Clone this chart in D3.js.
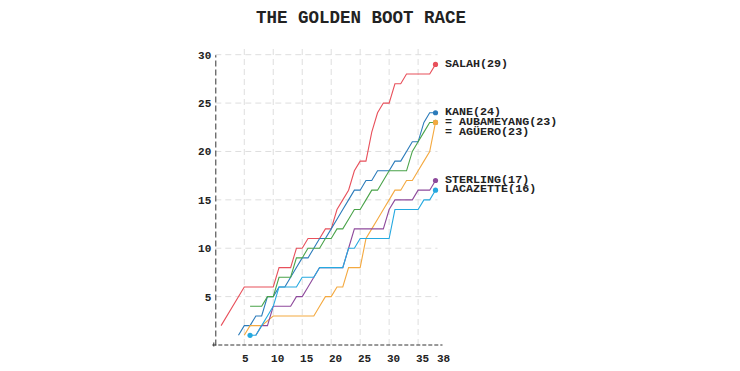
<!DOCTYPE html>
<html>
<head>
<meta charset="utf-8">
<script src="https://cdn.jsdelivr.net/npm/d3@7"></script>
<style>
  body { margin: 0; background: #fff; }
  svg text { font-family: "Liberation Mono", "Courier New", monospace; font-weight: bold; fill: #222; }
</style>
</head>
<body>
<div id="chart"></div>
<script>
// cumulative goals per gameweek, null = no value recorded
var gameweeks = [1,2,3,4,5,6,7,8,9,10,11,12,13,14,15,16,17,18,19,20,21,22,23,24,25,26,27,28,29,30,31,32,33,34,35,36,37,38];

var salah      = [2,null,null,null,6,6,6,6,6,6,8,8,8,10,10,11,11,11,12,12,14,15,16,18,19,19,22,24,25,25,27,27,28,28,28,28,28,29];
var kane       = [null,null,null,1,2,2,3,3,5,5,6,6,7,8,9,9,10,11,11,12,13,14,15,16,16,17,17,18,18,18,19,19,20,21,21,23,24,24];
var aubameyang = [null,null,null,null,null,4,4,4,5,5,7,7,7,9,9,10,10,10,11,11,12,12,13,14,14,15,16,16,17,18,18,18,18,20,21,22,23,23];
var aguero     = [null,null,null,null,1,2,2,2,null,3,3,3,3,3,3,3,3,4,5,5,6,6,8,8,8,11,12,13,14,15,16,16,17,17,18,19,20,23];
var sterling   = [null,null,null,null,null,null,1,2,2,4,4,4,4,5,5,6,7,8,8,8,8,8,10,12,12,12,12,12,12,14,15,15,15,15,16,16,16,17];
var lacazette  = [null,null,null,null,null,1,1,2,3,4,6,6,6,6,7,7,7,8,8,8,8,8,10,10,11,11,11,11,11,11,14,14,14,14,14,15,15,16];

var players = ["SALAH", "KANE", "AUBAMEYANG", "AGÜERO", "STERLING", "LACAZETTE"];
var playerGoals = [salah, kane, aubameyang, aguero, sterling, lacazette];
var colors = ["#e8505b", "#2b7bba", "#4aa34a", "#f4a940", "#8e4a9c", "#25a9e0"];

var xTicks = [5, 10, 15, 20, 25, 30, 35, 38];
var yTicks = [5, 10, 15, 20, 25, 30];

var width = 740, height = 371;

var svg = d3.select("#chart").append("svg")
    .attr("width", width)
    .attr("height", height);

var x = d3.scaleLinear().domain([0, 38]).range([215.3, 435.5]);
var y = d3.scaleLinear().domain([0, 30]).range([345, 54.7]);

svg.append("text")
    .attr("x", 361)
    .attr("y", 22.5)
    .attr("text-anchor", "middle")
    .style("font-size", "17.5px")
    .text("THE GOLDEN BOOT RACE");

// grid
svg.append("g").selectAll("line")
    .data(xTicks.filter(function(d) { return d % 5 === 0; }))
    .enter().append("line")
    .attr("x1", function(d) { return x(d); })
    .attr("x2", function(d) { return x(d); })
    .attr("y1", y(0))
    .attr("y2", y(31))
    .attr("stroke", "#dedede")
    .attr("stroke-dasharray", "6,4");

svg.append("g").selectAll("line")
    .data(yTicks)
    .enter().append("line")
    .attr("x1", x(0))
    .attr("x2", x(38) + 2)
    .attr("y1", function(d) { return y(d); })
    .attr("y2", function(d) { return y(d); })
    .attr("stroke", "#dedede")
    .attr("stroke-dasharray", "6,4");

// axes
var xAxis = svg.append("g")
    .attr("transform", "translate(0," + y(0) + ")")
    .call(d3.axisBottom(x).tickValues(xTicks).tickSize(0).tickPadding(9));
xAxis.select(".domain")
    .attr("d", "M" + (x(0) - 3) + ",0H" + (x(38) + 7) + "M" + (x(0) - 1.5) + ",-2.5V3")
    .attr("stroke", "#333")
    .attr("stroke-dasharray", "4,2");
xAxis.selectAll("text")
    .attr("text-anchor", "start")
    .attr("dx", function(d) { return d === 38 ? 1 : -2.7; })
    .style("font-size", "11px")
    .style("fill", "#222");

var yAxis = svg.append("g")
    .attr("transform", "translate(" + x(0) + ",0)")
    .call(d3.axisLeft(y).tickValues(yTicks).tickSize(0).tickPadding(4));
yAxis.select(".domain")
    .attr("stroke", "#333")
    .attr("stroke-dasharray", "6,3");
yAxis.selectAll("text")
    .style("font-size", "11px")
    .style("fill", "#222");

// player lines
var line = d3.line()
    .x(function(d) { return x(d.gw); })
    .y(function(d) { return y(d.goals); });

var series = players.map(function(name, i) {
    var pts = gameweeks.map(function(gw, j) { return {gw: gw, goals: playerGoals[i][j]}; })
        .filter(function(d) { return d.goals !== null; });
    return {name: name, color: colors[i], points: pts, last: pts[pts.length - 1]};
});

var g = svg.append("g");

g.selectAll(".player")
    .data(series)
    .enter().append("path")
    .attr("class", "player")
    .attr("fill", "none")
    .attr("stroke", function(d) { return d.color; })
    .attr("stroke-width", 1.1)
    .attr("d", function(d) { return line(d.points); });

g.selectAll(".end")
    .data(series)
    .enter().append("circle")
    .attr("class", "end")
    .attr("r", 2.6)
    .attr("cx", function(d) { return x(d.last.gw); })
    .attr("cy", function(d) { return y(d.last.goals); })
    .attr("fill", function(d) { return d.color; });

// first point marked for lacazette
var laca = series[5];
g.append("circle")
    .attr("r", 2.6)
    .attr("cx", x(laca.points[0].gw))
    .attr("cy", y(laca.points[0].goals))
    .attr("fill", laca.color);

// end labels, tied players get a "=" and the second one moves down
var seen = {};
svg.append("g").selectAll("text")
    .data(series)
    .enter().append("text")
    .attr("x", x(38) + 9.5)
    .attr("y", function(d) {
        var v = d.last.goals;
        var shift = seen[v] ? 10 : 0;
        seen[v] = true;
        return y(v) - 1.5 + shift;
    })
    .attr("dy", "0.32em")
    .style("font-size", "11.7px")
    .text(function(d) {
        var ties = series.filter(function(s) { return s.last.goals === d.last.goals; }).length;
        return (ties > 1 ? "= " : "") + d.name + "(" + d.last.goals + ")";
    });
</script>
</body>
</html>
